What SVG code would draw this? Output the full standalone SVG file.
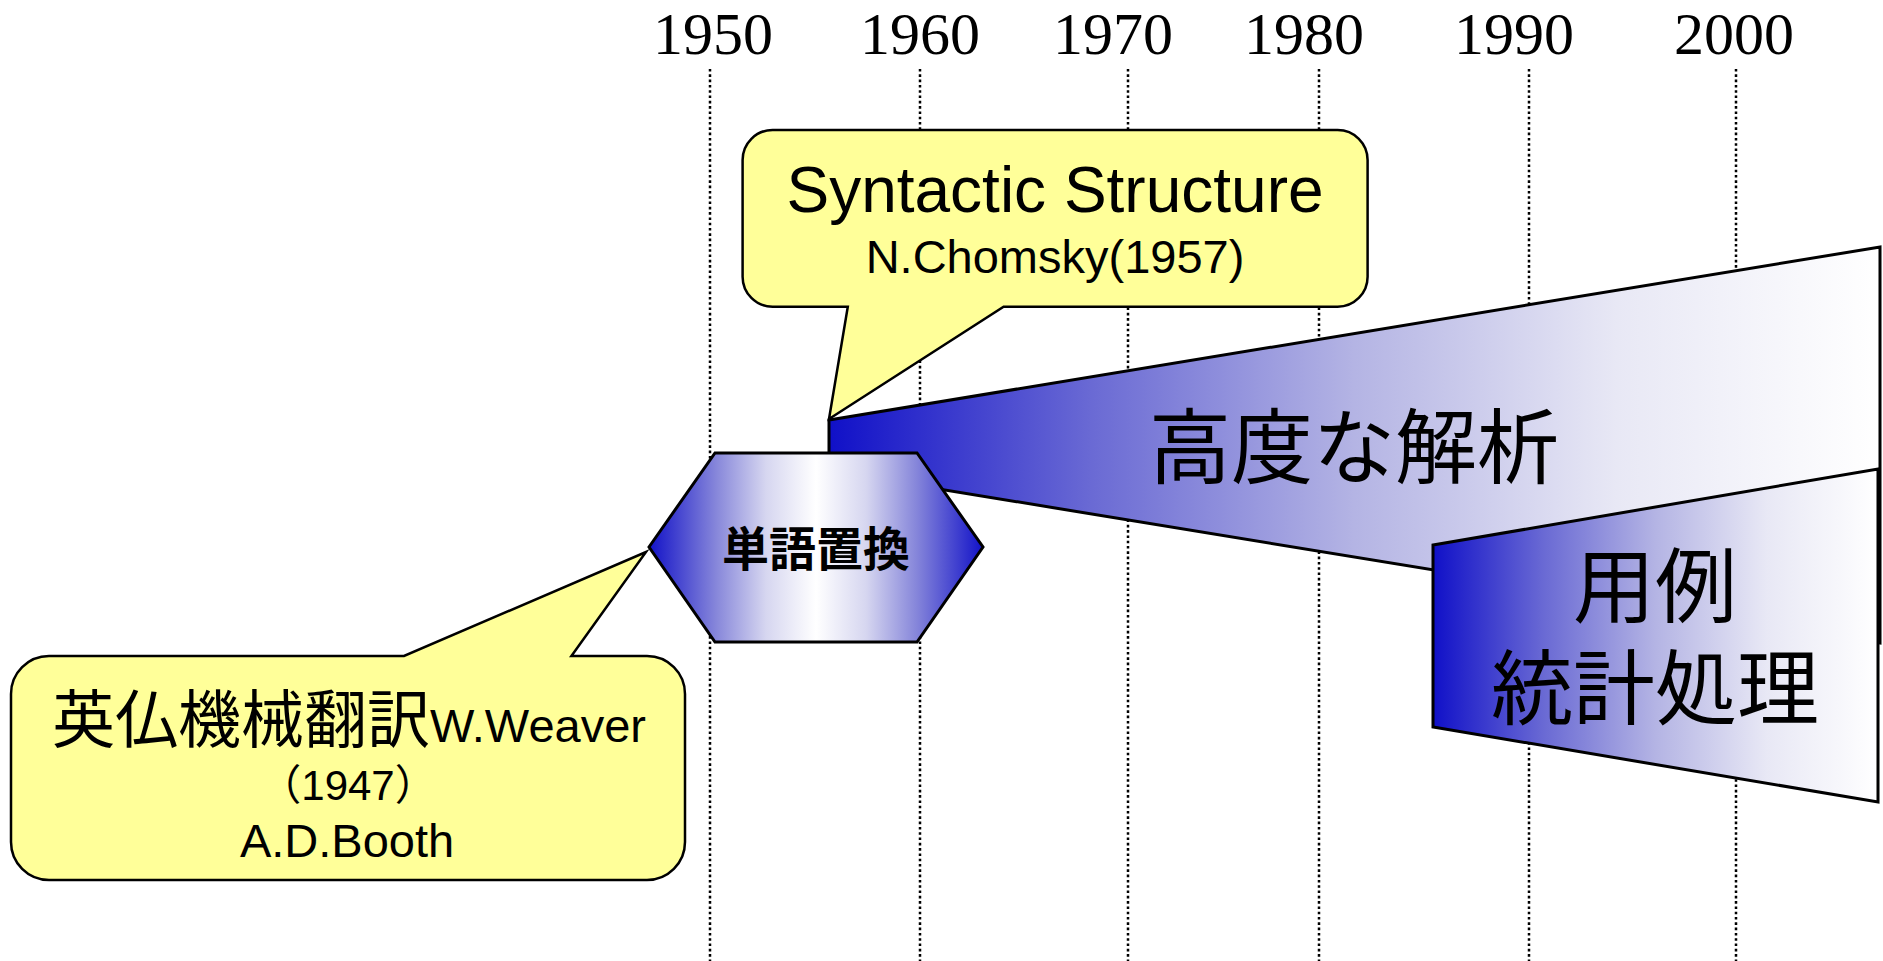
<svg xmlns="http://www.w3.org/2000/svg" width="1883" height="961" viewBox="0 0 1883 961">
  <style>
    .year { font-family: "Liberation Serif", "Times New Roman", serif; font-size: 60px; fill: #000; text-anchor: middle; }
    .grid { stroke: #000; stroke-width: 2.5; stroke-dasharray: 2.6 2.7; fill: none; }
    .shape { stroke: #000; stroke-width: 3; stroke-linejoin: miter; }
    .callout { fill: #ffff99; stroke: #000; stroke-width: 2.5; stroke-linejoin: miter; }
    .t { font-family: "Liberation Sans", "Noto Sans CJK JP", sans-serif; fill: #000; text-anchor: middle; }
    .jp { font-family: "Noto Sans CJK JP", "Noto Sans CJK SC", sans-serif; fill: #000; text-anchor: middle; }
    .jpl { font-family: "Liberation Sans", "Noto Sans CJK JP", "Noto Sans CJK SC", sans-serif; fill: #000; text-anchor: middle; }
  </style>
  <defs>
    <linearGradient id="fadeRight" x1="0" y1="0" x2="1" y2="0">
      <stop offset="0" stop-color="#1010c8"/>
      <stop offset="0.25" stop-color="#6a6ad4"/>
      <stop offset="0.5" stop-color="#b4b4e4"/>
      <stop offset="0.75" stop-color="#e8e8f5"/>
      <stop offset="1" stop-color="#ffffff"/>
    </linearGradient>
    <linearGradient id="hexFill" x1="0" y1="0" x2="1" y2="0">
      <stop offset="0" stop-color="#1212c8"/>
      <stop offset="0.2" stop-color="#8686da"/>
      <stop offset="0.35" stop-color="#d6d6f0"/>
      <stop offset="0.5" stop-color="#ffffff"/>
      <stop offset="0.65" stop-color="#d6d6f0"/>
      <stop offset="0.8" stop-color="#8686da"/>
      <stop offset="1" stop-color="#1212c8"/>
    </linearGradient>
  </defs>

  <!-- timeline axis: year labels and dotted guides -->
  <g id="axis">
    <text class="year" x="713" y="54">1950</text>
    <text class="year" x="920" y="54">1960</text>
    <text class="year" x="1113" y="54">1970</text>
    <text class="year" x="1304" y="54">1980</text>
    <text class="year" x="1514" y="54">1990</text>
    <text class="year" x="1734" y="54">2000</text>
    <line class="grid" x1="710" y1="69" x2="710" y2="961"/>
    <line class="grid" x1="920" y1="69" x2="920" y2="961"/>
    <line class="grid" x1="1128" y1="69" x2="1128" y2="961"/>
    <line class="grid" x1="1319" y1="69" x2="1319" y2="961"/>
    <line class="grid" x1="1529" y1="69" x2="1529" y2="961"/>
    <line class="grid" x1="1736" y1="69" x2="1736" y2="961"/>
  </g>

  <!-- advanced analysis band -->
  <g id="advanced-analysis">
    <polygon class="shape" fill="url(#fadeRight)" points="829,420 1880,247 1880,643 829,471"/>
    <text class="jp" x="1354" y="477" font-size="82">高度な解析</text>
  </g>

  <!-- example-based / statistical band -->
  <g id="statistical">
    <polygon class="shape" fill="url(#fadeRight)" points="1433,545 1878,469 1878,802 1433,727"/>
    <text class="jpl" x="1655" y="616" font-size="82">用例</text>
    <text class="jpl" x="1655" y="718" font-size="82">統計処理</text>
  </g>

  <!-- Chomsky callout -->
  <g id="chomsky-callout">
    <path class="callout" d="M772.6,130 H1337.6 A30,30 0 0 1 1367.6,160 V276.7 A30,30 0 0 1 1337.6,306.7 H1003.6 L829,419 L847.8,306.7 H772.6 A30,30 0 0 1 742.6,276.7 V160 A30,30 0 0 1 772.6,130 Z"/>
    <text class="t" x="1055" y="212" font-size="64">Syntactic Structure</text>
    <text class="t" x="1055" y="273" font-size="47">N.Chomsky(1957)</text>
  </g>

  <!-- word substitution hexagon -->
  <g id="word-substitution">
    <polygon class="shape" fill="url(#hexFill)" points="649,547 715,453 917,453 983,547 917,642 715,642"/>
    <text class="jp" x="816" y="566" font-size="47" font-weight="bold">単語置換</text>
  </g>

  <!-- Weaver / Booth callout -->
  <g id="weaver-callout">
    <path class="callout" d="M49,656 H404 L646,552 L571.4,656 H647 A38,38 0 0 1 685,694 V842 A38,38 0 0 1 647,880 H49 A38,38 0 0 1 11,842 V694 A38,38 0 0 1 49,656 Z"/>
    <text class="t" x="349" y="742"><tspan font-size="63" font-family="Noto Sans CJK JP, sans-serif">英仏機械翻訳</tspan><tspan font-size="47">W.Weaver</tspan></text>
    <text class="t" x="348" y="800" font-size="42">（1947）</text>
    <text class="t" x="347" y="857" font-size="47">A.D.Booth</text>
  </g>
</svg>
